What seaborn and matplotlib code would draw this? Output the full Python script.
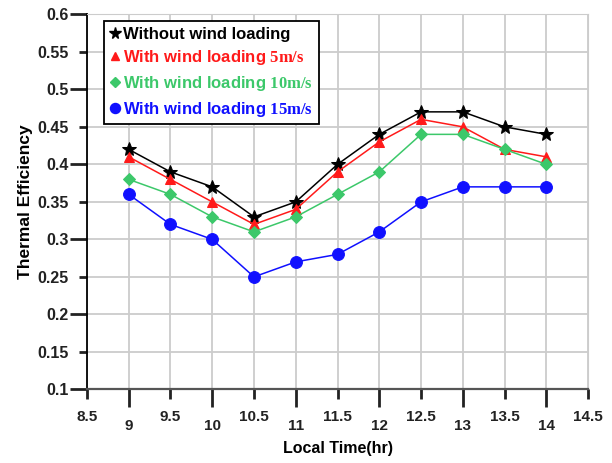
import pandas as pd
import matplotlib
matplotlib.use('Agg')
import matplotlib.pyplot as plt
import seaborn as sns
from matplotlib.ticker import MultipleLocator, FuncFormatter
from matplotlib.lines import Line2D

# datos
hora = [9, 9.5, 10, 10.5, 11, 11.5, 12, 12.5, 13, 13.5, 14]
sin_viento = [0.42, 0.39, 0.37, 0.33, 0.35, 0.40, 0.44, 0.47, 0.47, 0.45, 0.44]
viento_5 = [0.41, 0.38, 0.35, 0.32, 0.34, 0.39, 0.43, 0.46, 0.45, 0.42, 0.41]
viento_10 = [0.38, 0.36, 0.33, 0.31, 0.33, 0.36, 0.39, 0.44, 0.44, 0.42, 0.40]
viento_15 = [0.36, 0.32, 0.30, 0.25, 0.27, 0.28, 0.31, 0.35, 0.37, 0.37, 0.37]

etiquetas = ['Without wind loading',
             r'With wind loading $\mathrm{5m/s}$',
             r'With wind loading $\mathrm{10m/s}$',
             r'With wind loading $\mathrm{15m/s}$']
colores = ['black', '#ff1a1a', '#3cc86a', '#1010ff']
marcadores = ['*', '^', 'D', 'o']
tamanos = [10, 7, 6, 8.5]

# estilo por rcParams (sin sns.set_style)
plt.rcParams['font.family'] = ['Liberation Sans', 'DejaVu Sans']
plt.rcParams['font.weight'] = 'bold'
plt.rcParams['mathtext.fontset'] = 'custom'
plt.rcParams['mathtext.rm'] = 'Liberation Serif'

fig = plt.figure(figsize=(6.12, 4.63), dpi=100)
ax = fig.add_axes([0.142, 0.159, 0.819, 0.81])

series = [sin_viento, viento_5, viento_10, viento_15]
for vals, col, mk, ms in zip(series, colores, marcadores, tamanos):
    df = pd.DataFrame({'hora': hora, 'eff': vals})
    sns.lineplot(data=df, x='hora', y='eff', ax=ax, color=col, marker=mk,
                 markersize=ms, markeredgecolor=col, linewidth=1.1, zorder=3)

ax.set_xlim(8.5, 14.5)
ax.set_ylim(0.1, 0.6)

fmt = FuncFormatter(lambda v, p: '{:g}'.format(round(v, 2)))
ax.xaxis.set_major_locator(MultipleLocator(1))
ax.xaxis.set_minor_locator(MultipleLocator(0.5))
ax.yaxis.set_major_locator(MultipleLocator(0.1))
ax.yaxis.set_minor_locator(MultipleLocator(0.05))
ax.xaxis.set_major_formatter(fmt)
ax.xaxis.set_minor_formatter(fmt)
ax.yaxis.set_major_formatter(fmt)
ax.yaxis.set_minor_formatter(fmt)

ax.tick_params(axis='both', which='both', direction='out', color='#222222',
               labelcolor='#222222', width=2, bottom=True, left=True,
               top=False, right=False)
ax.tick_params(axis='x', which='both', labelsize=11)
ax.tick_params(axis='y', which='both', labelsize=11.5)
ax.tick_params(axis='x', which='major', length=13, pad=8)
ax.tick_params(axis='x', which='minor', length=7, pad=8)
ax.tick_params(axis='y', which='major', length=12, pad=1)
ax.tick_params(axis='y', which='minor', length=6, pad=7)
for lab in ax.get_xticklabels(which='both') + ax.get_yticklabels(which='both'):
    lab.set_fontweight('bold')

ax.grid(True, which='both', color='#cccccc', linewidth=1.3)
for ln in ax.get_xgridlines() + ax.get_ygridlines():
    ln.set_zorder(0.5)
ax.spines['left'].set_color('black')
ax.spines['left'].set_linewidth(1.3)
ax.spines['bottom'].set_color('#555555')
ax.spines['bottom'].set_linewidth(1.6)
ax.spines['top'].set_color('#cccccc')
ax.spines['right'].set_color('#cccccc')

ax.set_xlabel('Local Time(hr)', fontsize=11.5, fontweight='bold', labelpad=6)
ax.set_ylabel('Thermal Efficiency', fontsize=12.5, fontweight='bold', labelpad=3)

handles = [Line2D([], [], linestyle='none', marker=mk, color=col, markersize=ms * 0.85)
           for col, mk, ms in zip(colores, marcadores, tamanos)]
leg = ax.legend(handles, etiquetas, loc='upper left', bbox_to_anchor=(0.034, 0.983),
                borderaxespad=0, fancybox=False, edgecolor='black', framealpha=1,
                handlelength=0.6, handletextpad=0.2, labelspacing=0.4,
                borderpad=0.35, prop={'weight': 'bold', 'size': 12})
leg.get_frame().set_linewidth(1.3)
for txt, col in zip(leg.get_texts(), colores):
    txt.set_color(col)

fig.savefig('out.png', dpi=100)
